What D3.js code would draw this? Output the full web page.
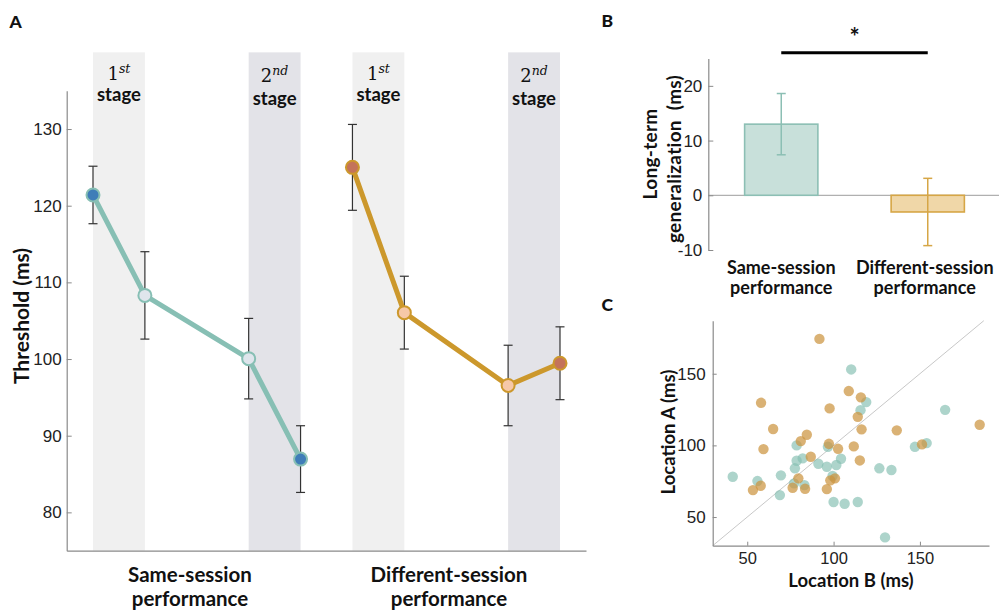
<!DOCTYPE html>
<html>
<head>
<meta charset="utf-8">
<script src="https://cdn.jsdelivr.net/npm/d3@7"></script>
<style>
  html, body { margin: 0; padding: 0; background: #fff; }
  svg { display: block; }
  .tick text { font-family: "Liberation Sans", Arial, sans-serif; fill: #222; }
  .bold { font-family: Lato, "Open Sans", sans-serif; font-weight: 700; fill: #111; }
</style>
</head>
<body>
<svg id="chart" width="999" height="610"></svg>
<script>
// ---------------- DATA ----------------
// Panel A: thresholds (ms) at 4 measurement points per condition
const conditions = ["Same-session performance", "Different-session performance"];
const conditionLines = [["Same-session", "performance"], ["Different-session", "performance"]];
const stageNames = [["1", "st"], ["2", "nd"]];
const sameMean = [121.4, 108.3, 100.05, 86.95];
const sameErr  = [3.75, 5.7, 5.25, 4.35];
const diffMean = [125.0, 106.05, 96.55, 99.45];
const diffErr  = [5.6, 4.75, 5.25, 4.75];
const yTicksA  = [80, 90, 100, 110, 120, 130];

// Panel B: long-term generalization (ms)
const genLabels = ["Same-session performance", "Different-session performance"];
const genMean = [13.0, -3.05];
const genErr  = [5.6, 6.15];
const yTicksB = [-10, 0, 10, 20];

// Panel C: individual thresholds, [Location B, Location A] (ms)
const sameSubjects = [
  [41.6, 78.1], [55.9, 75.1], [69.5, 79.1], [68.9, 65.3], [78.6, 100.0], [82.1, 90.9],
  [78.6, 89.3], [77.6, 84.0], [77.1, 73.5], [83.1, 72.3], [91.2, 87.2], [96.1, 85.1],
  [96.7, 99.0], [101.6, 86.3], [104.3, 90.7], [99.4, 78.6], [100.0, 60.5], [106.4, 59.3],
  [114.0, 60.5], [110.2, 153.0], [115.6, 124.6], [118.9, 130.2], [126.5, 84.0], [133.5, 82.8],
  [129.8, 35.8], [147.1, 99.0], [153.9, 101.6], [164.6, 124.8]
];
const diffSubjects = [
  [91.8, 174.3], [58.0, 129.7], [97.7, 125.8], [65.0, 111.4], [59.4, 97.4], [84.5, 107.4],
  [81.0, 103.0], [97.3, 101.1], [102.6, 97.6], [111.7, 99.3], [86.8, 92.1], [79.6, 77.0],
  [76.3, 70.4], [83.5, 69.7], [57.8, 71.8], [53.3, 68.8], [96.1, 69.5], [98.1, 75.6],
  [100.8, 77.0], [108.8, 137.9], [115.8, 133.5], [114.0, 119.9], [116.2, 111.2], [115.2, 89.5],
  [136.6, 110.5], [151.2, 100.7], [184.6, 114.4]
];
const ticksC = [50, 100, 150];

// ---------------- STYLE ----------------
const teal = "#87bfb4", gold = "#cc982c";
const sameFill = ["#3f7db8", "#dfe5ec", "#dfe5ec", "#3f7db8"];
const diffFill = ["#c4735a", "#f6c8a8", "#f6c8a8", "#c4735a"];
const bandFill = ["#f0f0f0", "#e3e3e8"];
const axisColor = "#8a8a8a";

const svg = d3.select("#chart");

function styleAxis(g, size) {
  g.selectAll(".domain").attr("stroke", axisColor).attr("stroke-width", 1.2);
  g.selectAll(".tick line").attr("stroke", axisColor);
  g.selectAll(".tick text").style("font-size", size + "px").style("font-family", "'Liberation Sans', Arial, sans-serif").attr("fill", "#222");
  g.attr("font-family", null).attr("font-size", null);
}

// ---------------- PANEL A ----------------
const slot = [0, 1, 3, 4];        // stage slot indices within a condition
const groupStart = [0, 5];
const xA = d3.scaleLinear().domain([0, 9]).range([93, 560]);
const yA = d3.scaleLinear().domain([75, 135]).range([550.7, 90.7]);
const gA = svg.append("g");

// stage bands
groupStart.forEach(gs => {
  [0, 1].forEach(s => {
    const x0 = xA(gs + slot[2 * s]), x1 = xA(gs + slot[2 * s + 1]);
    gA.append("rect").attr("x", x0).attr("width", x1 - x0)
      .attr("y", yA(140)).attr("height", yA(75) - yA(140)).attr("fill", bandFill[s]);
    const cx = (x0 + x1) / 2;
    const by = s === 0 ? 80 : 81.5;
    const t = gA.append("text").attr("x", cx).attr("y", by).attr("text-anchor", "middle")
      .style("font-family", "'DejaVu Serif', 'Liberation Serif', serif").style("font-size", "18px").attr("fill", "#111");
    t.append("tspan").text(stageNames[s][0]);
    t.append("tspan").attr("dy", -7).style("font-size", "12.5px").style("font-style", "italic").text(stageNames[s][1]);
    gA.append("text").attr("class", "bold").attr("x", cx).attr("y", s === 0 ? 101 : 104.5)
      .attr("text-anchor", "middle").style("font-size", "18.5px").text("stage");
  });
});

// axes
const axA = gA.append("g").attr("transform", "translate(66.7,0)")
  .call(d3.axisLeft(yA).tickValues(yTicksA).tickSizeInner(-5).tickSizeOuter(0).tickPadding(5));
styleAxis(axA, 17);
const xAxisScaleA = d3.scaleLinear().domain([0, 1]).range([66.7, 586]);
const bxA = gA.append("g").attr("transform", "translate(0,550.7)")
  .call(d3.axisBottom(xAxisScaleA).tickValues([]).tickSizeOuter(0));
styleAxis(bxA, 17);

// y label
gA.append("text").attr("class", "bold").attr("transform", "translate(29,316) rotate(-90)")
  .attr("text-anchor", "middle").style("font-size", "21px").text("Threshold (ms)");

// condition labels
const condCenterA = [190, 449];
conditionLines.forEach((lines, gi) => {
  lines.forEach((ln, li) => {
    gA.append("text").attr("class", "bold").attr("x", condCenterA[gi]).attr("y", 582 + li * 24)
      .attr("text-anchor", "middle").style("font-size", "20.5px").text(ln);
  });
});

// series
const seriesA = [
  { mean: sameMean, err: sameErr, color: teal, fill: sameFill, gs: groupStart[0] },
  { mean: diffMean, err: diffErr, color: gold, fill: diffFill, gs: groupStart[1] }
];
seriesA.forEach(sr => {
  sr.mean.forEach((m, i) => {
    const x = xA(sr.gs + slot[i]);
    const lo = yA(m - sr.err[i]), hi = yA(m + sr.err[i]);
    gA.append("line").attr("x1", x).attr("x2", x).attr("y1", lo).attr("y2", hi).attr("stroke", "#333").attr("stroke-width", 1.2);
    [lo, hi].forEach(y => gA.append("line").attr("x1", x - 4.5).attr("x2", x + 4.5).attr("y1", y).attr("y2", y).attr("stroke", "#333").attr("stroke-width", 1.2));
  });
  const line = d3.line().x((d, i) => xA(sr.gs + slot[i])).y(d => yA(d));
  gA.append("path").attr("d", line(sr.mean)).attr("fill", "none").attr("stroke", sr.color)
    .attr("stroke-width", 5).attr("stroke-linejoin", "round");
  sr.mean.forEach((m, i) => {
    gA.append("circle").attr("cx", xA(sr.gs + slot[i])).attr("cy", yA(m)).attr("r", 6.5)
      .attr("fill", sr.fill[i]).attr("stroke", sr.color).attr("stroke-width", 2);
  });
});

// panel label
svg.append("text").attr("class", "bold").attr("x", 9.5).attr("y", 27.5).style("font-size", "17.5px").style("font-weight", 900).text("A");

// ---------------- PANEL B ----------------
const gB = svg.append("g");
const xB = d3.scaleBand().domain(genLabels).range([708, 1001]).paddingInner(0.5).paddingOuter(0.25);
const yB = d3.scaleLinear().domain([-10, 25]).range([250, 58.5]);
const barFill = ["#c8e0da", "#f0d7a8"], barStroke = ["#8cbfb4", "#d6a646"];

gB.append("line").attr("x1", 708.3).attr("x2", 999).attr("y1", yB(0)).attr("y2", yB(0)).attr("stroke", "#b0b0b0").attr("stroke-width", 1.2);
genLabels.forEach((l, i) => {
  const v = genMean[i];
  gB.append("rect").attr("x", xB(l)).attr("width", xB.bandwidth())
    .attr("y", yB(Math.max(0, v))).attr("height", Math.abs(yB(v) - yB(0)))
    .attr("fill", barFill[i]).attr("stroke", barStroke[i]).attr("stroke-width", 1.6);
  const cx = xB(l) + xB.bandwidth() / 2;
  const lo = yB(v - genErr[i]), hi = yB(v + genErr[i]);
  gB.append("line").attr("x1", cx).attr("x2", cx).attr("y1", lo).attr("y2", hi).attr("stroke", barStroke[i]).attr("stroke-width", 1.5);
  [lo, hi].forEach(y => gB.append("line").attr("x1", cx - 4.5).attr("x2", cx + 4.5).attr("y1", y).attr("y2", y).attr("stroke", barStroke[i]).attr("stroke-width", 1.5));
  conditionLines[i].forEach((ln, li) => {
    gB.append("text").attr("class", "bold").attr("x", cx + (i === 1 ? -3 : 0)).attr("y", 273.5 + li * 20)
      .attr("text-anchor", "middle").style("font-size", "18px").text(ln);
  });
});
const axB = gB.append("g").attr("transform", "translate(708.3,0)")
  .call(d3.axisLeft(yB).tickValues(yTicksB).tickSizeInner(-5).tickSizeOuter(0).tickPadding(6));
styleAxis(axB, 17);
axB.selectAll(".tick text").text(d => d < 0 ? "-" + Math.abs(d) : d);

// significance
const c0 = xB(genLabels[0]) + xB.bandwidth() / 2, c1 = xB(genLabels[1]) + xB.bandwidth() / 2;
gB.append("line").attr("x1", c0).attr("x2", c1).attr("y1", 52.7).attr("y2", 52.7).attr("stroke", "#000").attr("stroke-width", 3);
gB.append("text").attr("class", "bold").attr("x", (c0 + c1) / 2).attr("y", 46).attr("text-anchor", "middle")
  .style("font-size", "24px").text("*");

// y label
gB.append("text").attr("class", "bold").attr("transform", "translate(657,154) rotate(-90)")
  .attr("text-anchor", "middle").style("font-size", "19px").style("letter-spacing", "0.3px").text("Long-term");
gB.append("text").attr("class", "bold").attr("transform", "translate(680.5,159) rotate(-90)")
  .attr("text-anchor", "middle").style("font-size", "19px").style("letter-spacing", "0.3px")
  .style("white-space", "pre").text("generalization  (ms)");

svg.append("text").attr("class", "bold").attr("x", 601.5).attr("y", 27).style("font-size", "17.5px").style("font-weight", 900).text("B");

// ---------------- PANEL C ----------------
const gC = svg.append("g");
const xC = d3.scaleLinear().domain([30, 190]).range([712.7, 989]);
const yC = d3.scaleLinear().domain([30, 187]).range([545.7, 320.7]);

gC.append("line").attr("x1", xC(30)).attr("y1", yC(30)).attr("x2", xC(187)).attr("y2", yC(187))
  .attr("stroke", "#c8c8c8").attr("stroke-width", 1);

const axCy = gC.append("g").attr("transform", "translate(712.7,0)")
  .call(d3.axisLeft(yC).tickValues(ticksC).tickSizeInner(-4).tickSizeOuter(0).tickPadding(7));
styleAxis(axCy, 17);
const axCx = gC.append("g").attr("transform", "translate(0,545.7)")
  .call(d3.axisBottom(xC).tickValues(ticksC).tickSizeInner(-4).tickSizeOuter(0).tickPadding(7));
styleAxis(axCx, 16.5);

gC.selectAll("circle.same").data(sameSubjects).join("circle").attr("class", "same")
  .attr("cx", d => xC(d[0])).attr("cy", d => yC(d[1])).attr("r", 5.2)
  .attr("fill", "#86c0b3").attr("fill-opacity", 0.68);
gC.selectAll("circle.diff").data(diffSubjects).join("circle").attr("class", "diff")
  .attr("cx", d => xC(d[0])).attr("cy", d => yC(d[1])).attr("r", 5.2)
  .attr("fill", "#cc9440").attr("fill-opacity", 0.72);

gC.append("text").attr("class", "bold").attr("x", 851).attr("y", 587).attr("text-anchor", "middle")
  .style("font-size", "18.5px").text("Location B (ms)");
gC.append("text").attr("class", "bold").attr("transform", "translate(675,432) rotate(-90)")
  .attr("text-anchor", "middle").style("font-size", "18.5px").text("Location A (ms)");

svg.append("text").attr("class", "bold").attr("x", 601.5).attr("y", 311).style("font-size", "17.5px").style("font-weight", 900).text("C");
</script>
</body>
</html>
